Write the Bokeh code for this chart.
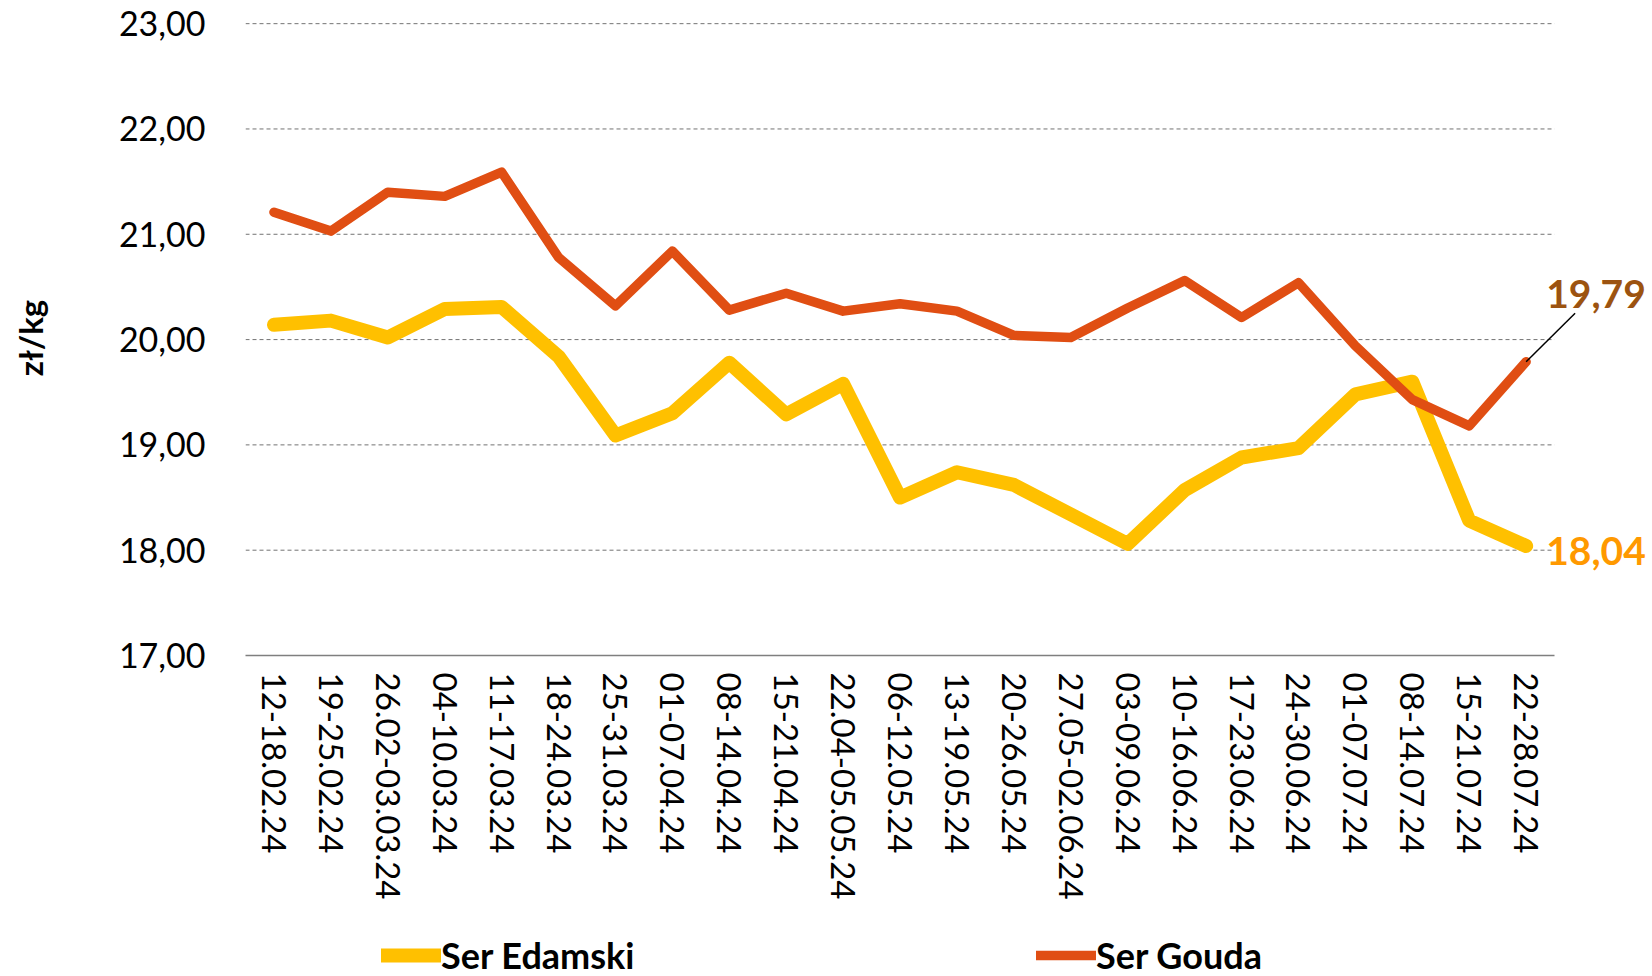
from bokeh.plotting import figure
from bokeh.layouts import column
from bokeh.models import Range1d, FixedTicker, Legend, LegendItem, Label, Arrow
from bokeh.embed import file_html
from bokeh.resources import INLINE

categories = ["12-18.02.24", "19-25.02.24", "26.02-03.03.24", "04-10.03.24", "11-17.03.24",
              "18-24.03.24", "25-31.03.24", "01-07.04.24", "08-14.04.24", "15-21.04.24",
              "22.04-05.05.24", "06-12.05.24", "13-19.05.24", "20-26.05.24", "27.05-02.06.24",
              "03-09.06.24", "10-16.06.24", "17-23.06.24", "24-30.06.24", "01-07.07.24",
              "08-14.07.24", "15-21.07.24", "22-28.07.24"]
edamski = [20.14, 20.18, 20.02, 20.29, 20.31, 19.84, 19.09, 19.30, 19.78, 19.29,
           19.58, 18.50, 18.74, 18.62, 18.34, 18.06, 18.57, 18.88, 18.97, 19.48,
           19.60, 18.28, 18.04]
gouda = [21.21, 21.03, 21.40, 21.36, 21.59, 20.78, 20.32, 20.84, 20.28, 20.44,
         20.27, 20.34, 20.27, 20.04, 20.02, 20.30, 20.56, 20.21, 20.54, 19.94,
         19.43, 19.18, 19.79]
y_ticks = [17, 18, 19, 20, 21, 22, 23]
y_tick_labels = ["17,00", "18,00", "19,00", "20,00", "21,00", "22,00", "23,00"]
series_names = ["Ser Edamski", "Ser Gouda"]
last_labels = ["18,04", "19,79"]

FONT = "Lato"
YELLOW = "#FFC000"
RED = "#E04E13"

n = len(categories)
xs = list(range(n))  # category positions on the axis

p = figure(width=1652, height=925, output_backend="svg", toolbar_location=None,
           x_range=Range1d(-0.5, n + 1.22),
           y_range=Range1d(y_ticks[0], y_ticks[-1] + 0.03),
           min_border_left=245, min_border_right=0, min_border_top=20, min_border_bottom=270)
p.outline_line_color = None
p.background_fill_color = "white"
p.border_fill_color = "white"
p.xgrid.grid_line_color = None
p.ygrid.grid_line_color = None

# dashed horizontal grid lines spanning the category bands
grid_levels = y_ticks[1:]
p.segment(x0=[xs[0] - 0.5] * len(grid_levels), x1=[xs[-1] + 0.5] * len(grid_levels),
          y0=grid_levels, y1=grid_levels, line_color="#737373", line_dash="4 3", line_width=1)

# y axis
p.yaxis.ticker = FixedTicker(ticks=y_ticks)
p.yaxis.major_label_overrides = {t: l for t, l in zip(y_ticks, y_tick_labels)}
p.yaxis.axis_line_color = None
p.yaxis.major_tick_line_color = None
p.yaxis.major_tick_in = 0
p.yaxis.major_tick_out = 0
p.yaxis.minor_tick_line_color = None
p.yaxis.major_label_standoff = 40
p.yaxis.major_label_text_font = FONT
p.yaxis.major_label_text_font_size = "34px"
p.yaxis.major_label_text_color = "black"
p.yaxis.axis_label = "zł/kg"
p.yaxis.axis_label_text_font = FONT
p.yaxis.axis_label_text_font_style = "bold"
p.yaxis.axis_label_text_font_size = "33px"
p.yaxis.axis_label_text_color = "black"
p.yaxis.axis_label_standoff = 66

# x axis
p.xaxis.ticker = FixedTicker(ticks=xs)
p.xaxis.major_label_overrides = {i: c for i, c in zip(xs, categories)}
p.xaxis.bounds = (xs[0] - 0.5, xs[-1] + 0.5)
p.xaxis.axis_line_color = "#7f7f7f"
p.xaxis.axis_line_width = 1.5
p.xaxis.major_tick_line_color = None
p.xaxis.major_tick_in = 0
p.xaxis.major_tick_out = 0
p.xaxis.minor_tick_line_color = None
p.xaxis.major_label_orientation = "vertical"
p.xaxis.major_label_standoff = 17
p.xaxis.major_label_text_font = FONT
p.xaxis.major_label_text_font_size = "33px"
p.xaxis.major_label_text_color = "black"

line_styles = [dict(line_width=14, color=YELLOW, line_cap="round", line_join="round"),
               dict(line_width=9.5, color=RED, line_cap="round", line_join="round")]
p.line(xs, edamski, **line_styles[0])
p.line(xs, gouda, **line_styles[1])

p.add_layout(Label(x=xs[-1], y=gouda[-1], text=last_labels[1], x_offset=20, y_offset=68,
                   text_baseline="middle", text_font=FONT, text_font_style="bold",
                   text_font_size="39px", text_color="#9C5310"))
p.add_layout(Label(x=xs[-1], y=edamski[-1], text=last_labels[0], x_offset=20, y_offset=-5,
                   text_baseline="middle", text_font=FONT, text_font_style="bold",
                   text_font_size="39px", text_color="#FF9900"))
p.add_layout(Arrow(end=None, x_start=xs[-1], y_start=gouda[-1],
                   x_end=xs[-1] + 0.86, y_end=gouda[-1] + 0.46,
                   line_color="black", line_width=1.5))

# legend strip below the chart (same series, drawn outside the strip's view)
lg = figure(width=1652, height=51, output_backend="svg", toolbar_location=None,
            x_range=Range1d(-100, -99), y_range=Range1d(-100, -99),
            x_axis_type=None, y_axis_type=None,
            min_border_left=0, min_border_right=0, min_border_top=0, min_border_bottom=0)
lg.outline_line_color = None
lg.grid.grid_line_color = None
l1 = lg.line(xs, edamski, **line_styles[0])
l2 = lg.line(xs, gouda, **line_styles[1])
common = dict(orientation="horizontal", glyph_width=60, glyph_height=40, label_height=40,
              label_standoff=0, padding=0, margin=0, spacing=0,
              border_line_alpha=0, background_fill_alpha=0,
              label_text_font=FONT, label_text_font_style="bold",
              label_text_font_size="36px", label_text_color="black")
# the strip's frame is aligned with the chart's frame (left edge at 245 px)
lg.add_layout(Legend(items=[LegendItem(label=series_names[0], renderers=[l1])],
                     location=(136, -1), **common))
lg.add_layout(Legend(items=[LegendItem(label=series_names[1], renderers=[l2])],
                     location=(791, -1), **common))

open("out.html", "w").write(file_html(column(p, lg), INLINE))
